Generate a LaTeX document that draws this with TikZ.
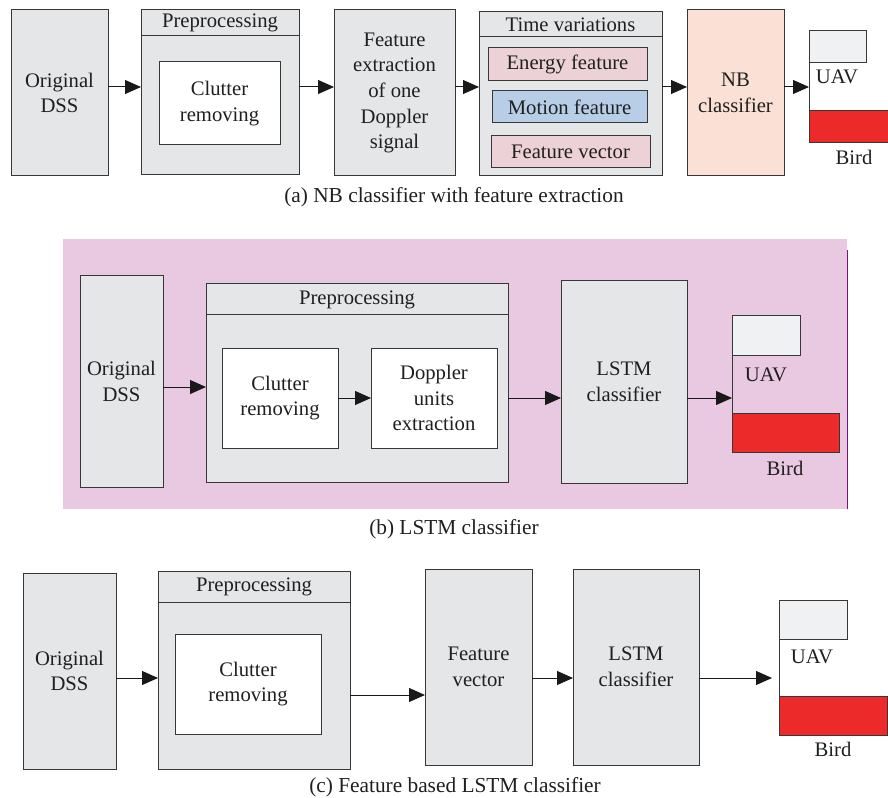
\documentclass[tikz,border=0pt]{standalone}
\usepackage{fontspec}
\setmainfont{Liberation Serif}
\usepackage{tikz}
\usetikzlibrary{arrows.meta}
\tikzset{every picture/.style={line width=0.75pt}}

\definecolor{edge}{RGB}{55,55,55}
\definecolor{boxgray}{RGB}{229,230,232}
\definecolor{enpink}{RGB}{236,210,214}
\definecolor{moblue}{RGB}{184,206,230}
\definecolor{nbpeach}{RGB}{250,224,213}
\definecolor{uavgray}{RGB}{240,241,243}
\definecolor{birdred}{RGB}{236,42,42}
\definecolor{bgpink}{RGB}{233,201,225}
\definecolor{bgline}{RGB}{120,20,120}

\tikzset{
  blk/.style={draw=edge, fill=boxgray, inner sep=0pt, outer sep=0pt, align=center, text=black!88,
    font=\fontsize{15.5}{19.2}\selectfont},
  sz/.style 2 args={minimum width=#1*0.75pt, minimum height=#2*0.75pt},
  wht/.style={blk, fill=white},
  lbl/.style={inner sep=0pt, text=black!88, font=\fontsize{15.5}{19.2}\selectfont},
  captxt/.style={inner sep=0pt, text=black!88, font=\fontsize{16}{19.2}\selectfont},
  arr/.style={draw=black!90, -{Triangle[length=12pt,width=10.5pt]}},
}

\begin{document}
\begin{tikzpicture}[x=0.75pt,y=0.75pt,yscale=-1,xscale=1]
		\useasboundingbox (0,0) rectangle (888,798);
		
		%%%%%% (a) NB classifier
		%Shape: Rectangle [id:dssA] 
		\node[blk, sz={97}{166}] (dssA) at (59.5,93) {Original\\DSS};
		%Shape: Rectangle [id:prepA] 
		\node[blk, sz={158}{165}] (prepA) at (220,92.5) {};
		\node[blk, sz={158}{26}, anchor=north] (prepAh) at (prepA.north) {Preprocessing};
		\node[wht, sz={121}{83}] (clutA) at (219.5,103.5) {Clutter\\removing};
		%Shape: Rectangle [id:featA] 
		\node[blk, sz={121}{166}] (featA) at (394.5,93) {Feature\\extraction\\of one\\Doppler\\signal};
		%Shape: Rectangle [id:timeA] 
		\node[blk, sz={183}{164}] (timeA) at (570.5,94) {};
		\node[blk, sz={183}{25}, anchor=north] (timeAh) at (timeA.north) {Time variations};
		\node[blk, fill=enpink, sz={159}{33}] (enA) at (567.5,64.5) {Energy feature};
		\node[blk, fill=moblue, sz={155}{32}] (moA) at (569.5,107) {Motion feature};
		\node[blk, fill=enpink, sz={159}{32}] (fvA) at (570.5,152) {Feature vector};
		%Shape: Rectangle [id:nbA] 
		\node[blk, fill=nbpeach, sz={97}{166}] (nbA) at (735.5,93) {NB\\classifier};
		%Output bars
		\node[blk, fill=uavgray, sz={57}{32}] (uavA) at (837.5,47) {};
		\node[blk, fill=birdred, sz={80}{32}] (birdA) at (849,127) {};
		\draw[draw=edge] (uavA.north west) -- (birdA.south west);
		% Text Node
		\node[lbl] (uavAt) at (837,77) {UAV};
		\node[lbl] (birdAt) at (854,157) {Bird};
		
		%Straight Lines
		\coordinate (rowA) at (0,87);
		\draw[arr] (dssA.east |- rowA) -- (prepA.west |- rowA);
		\draw[arr] (prepA.east |- rowA) -- (featA.west |- rowA);
		\draw[arr] (featA.east |- rowA) -- (timeA.west |- rowA);
		\draw[arr] (timeA.east |- rowA) -- (nbA.west |- rowA);
		\draw[arr] (nbA.east |- rowA) -- (uavA.west |- rowA);
		
		% Text Node
		\node[captxt] (capA) at (454,197) {(a) NB classifier with feature extraction};
		
		%%%%%% (b) LSTM classifier
		%Shape: Rectangle [id:bgB] 
		\fill[bgpink] (63,239) rectangle (847,509);
		\draw[bgline, line width=0.6pt] (847,250) -- (847,509);
		
		\node[blk, sz={83}{211}] (dssB) at (121.5,381.5) {Original\\DSS};
		\node[blk, sz={302}{198}] (prepB) at (357,383) {};
		\node[blk, sz={302}{31}, anchor=north] (prepBh) at (prepB.north) {Preprocessing};
		\node[wht, sz={116}{100}] (clutB) at (280,398) {Clutter\\removing};
		\node[wht, sz={126}{100}] (dopB) at (434,398) {Doppler\\units\\extraction};
		\node[blk, sz={126}{202}] (lstmB) at (624,382) {LSTM\\classifier};
		%Output bars
		\node[blk, fill=uavgray, sz={68}{39}] (uavB) at (766,335.5) {};
		\node[blk, fill=birdred, sz={107}{39}] (birdB) at (785.5,432.5) {};
		\draw[draw=edge] (uavB.north west) -- (birdB.south west);
		% Text Node
		\node[lbl] (uavBt) at (766,375) {UAV};
		\node[lbl] (birdBt) at (785,468) {Bird};
		
		%Straight Lines
		\coordinate (rowB) at (0,387);
		\draw[arr] (dssB.east |- rowB) -- (prepB.west |- rowB);
		\draw[arr] (clutB) -- (dopB);
		\draw[arr] (prepB.east |- clutB) -- (lstmB.west |- clutB);
		\draw[arr] (lstmB.east |- clutB) -- (uavB.west |- clutB);
		
		% Text Node
		\node[captxt] (capB) at (454,529) {(b) LSTM classifier};
		
		%%%%%% (c) Feature based LSTM classifier
		\node[blk, sz={93}{196}] (dssC) at (69.5,671) {Original\\DSS};
		\node[blk, sz={192}{198}] (prepC) at (254,670) {};
		\node[blk, sz={192}{31}, anchor=north] (prepCh) at (prepC.north) {Preprocessing};
		\node[wht, sz={146}{100}] (clutC) at (248,684) {Clutter\\removing};
		\node[blk, sz={107}{196}] (fvC) at (478.5,667) {Feature\\vector};
		\node[blk, sz={126}{196}] (lstmC) at (636,667) {LSTM\\classifier};
		%Output bars
		\node[blk, fill=uavgray, sz={68}{39}] (uavC) at (813,619.5) {};
		\node[blk, fill=birdred, sz={108}{39}] (birdC) at (833,715.5) {};
		\draw[draw=edge] (uavC.north west) -- (birdC.south west);
		% Text Node
		\node[lbl] (uavCt) at (812,657) {UAV};
		\node[lbl] (birdCt) at (833,749) {Bird};
		
		%Straight Lines
		\coordinate (rowC) at (0,678);
		\coordinate (rowCb) at (0,695);
		\coordinate (endC) at (772,678);
		\draw[arr] (dssC.east |- rowC) -- (prepC.west |- rowC);
		\draw[arr] (prepC.east |- rowCb) -- (fvC.west |- rowCb);
		\draw[arr] (fvC.east |- rowC) -- (lstmC.west |- rowC);
		\draw[arr] (lstmC.east |- endC) -- (endC);
		
		% Text Node
		\node[captxt] (capC) at (455,787) {(c) Feature based LSTM classifier};
		
\end{tikzpicture}
\end{document}
